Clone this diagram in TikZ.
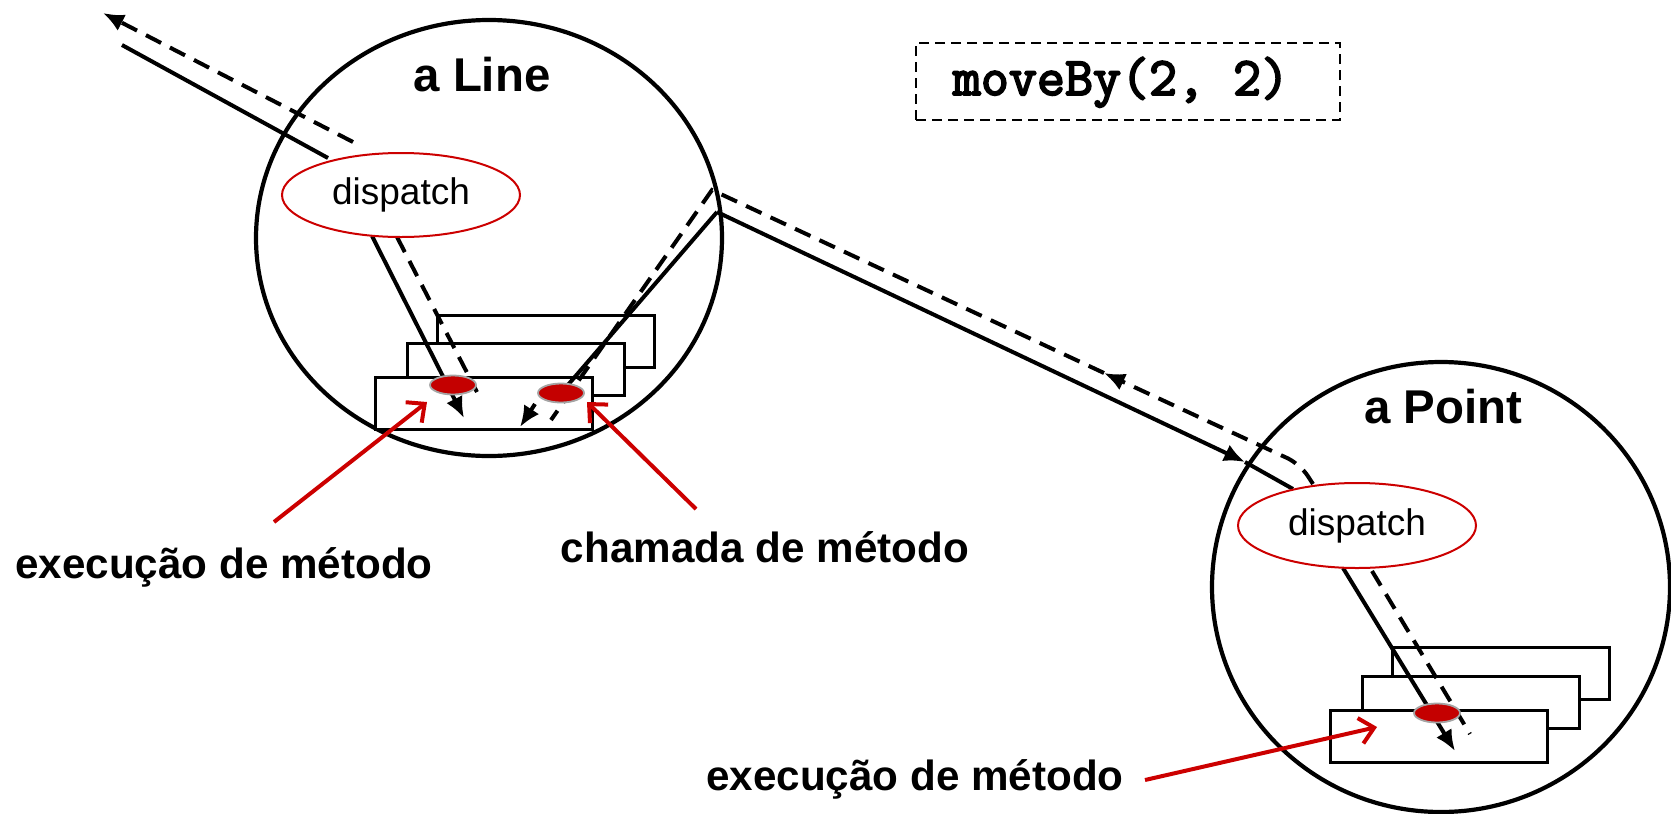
\documentclass[tikz,border=0pt]{standalone}
\usepackage{fontspec}
\setmainfont{Liberation Sans}
\newfontfamily\codefont{Latin Modern Mono}[FakeBold=3.5]
\usetikzlibrary{arrows.meta,shapes.geometric}
\definecolor{dispred}{RGB}{204,0,0}
\definecolor{dotred}{RGB}{196,0,0}
\definecolor{dotrim}{RGB}{165,165,165}
\begin{document}
\begin{tikzpicture}[x=0.5pt,y=-0.5pt,
  object/.style={draw, ellipse, line width=2.1pt, inner sep=0pt},
  dispatcher/.style={draw=dispred, fill=white, ellipse, line width=1pt, inner sep=0pt,
    minimum width=119pt, minimum height=42pt, font=\fontsize{18.5}{22}\selectfont},
  frame/.style={draw, fill=white, line width=1.5pt, inner sep=0pt,
    minimum width=108.5pt, minimum height=26pt},
  site/.style={ellipse, fill=dotred, draw=dotrim, line width=0.9pt, inner sep=0pt,
    minimum width=23pt, minimum height=9.5pt},
  call/.style={line width=2pt},
  back/.style={line width=2pt, dash pattern=on 8.5pt off 5pt},
  tip/.style={-{Latex[length=10.5pt,width=9pt]}},
  pointer/.style={draw=dispred, line width=2pt, -{Straight Barb[length=7pt,width=13pt,line width=2pt]}},
  title/.style={anchor=base, inner sep=0pt, font=\fontsize{23.7}{28}\selectfont\bfseries},
  caption/.style={anchor=base, inner sep=0pt, font=\fontsize{21.1}{25}\selectfont\bfseries}]
\useasboundingbox (0,0) rectangle (1671,814);

% the two objects
\node[object, minimum width=233pt, minimum height=218pt] (line) at (489,238) {};
\node[object, minimum width=229pt, minimum height=225pt] (point) at (1441,587) {};
\node[title] (linetitle) at (482,91) {a Line};
\node[title] (pointtitle) at (1443,423) {a Point};

% message box
\node[draw, line width=1.1pt, dash pattern=on 5pt off 3pt, minimum width=212pt, minimum height=38.5pt,
  inner sep=0pt] (msgbox) at (1128,81.5) {};
\node[anchor=base, inner sep=0pt, font=\fontsize{27.2}{30}\selectfont\codefont]
  (msg) at (1121,95) {moveBy(2, 2)};

% stacked activation frames of a Line
\node[frame] (lf3) at (545.5,341.5) {};
\node[frame] (lf2) at (515.5,369.5) {};
\node[frame] (lf1) at (483.5,403) {};
% stacked activation frames of a Point
\node[frame] (pf3) at (1501,673.5) {};
\node[frame] (pf2) at (1471,702) {};
\node[frame] (pf1) at (1439,736) {};

% path points
\coordinate (inA) at (122,45);
\coordinate (inB) at (328,158);
\coordinate (outA) at (353,142);
\coordinate (outB) at (103,13);
\coordinate (lsolA) at (372,236);
\coordinate (lsolB) at (464,418);
\coordinate (ldashA) at (397,237);
\coordinate (ldashB) at (477,392);
\coordinate (callsite) at (561,393);
\coordinate (peak) at (717,212);
\coordinate (midtip) at (1245,462);
\coordinate (pin) at (1293,489);
\coordinate (pback) at (1313,484);
\coordinate (bend) at (1300,464);
\coordinate (backtip) at (1104,373);
\coordinate (peakback) at (712,190);
\coordinate (retend) at (551,420);
\coordinate (rettail) at (535,404);
\coordinate (rettip) at (520,427);
\coordinate (psolA) at (1343,568);
\coordinate (psolB) at (1455,751);
\coordinate (pdashA) at (1372,571);
\coordinate (pdashB) at (1470,734);

% calls (solid) and returns (dashed)
\draw[call] (inA) -- (inB);
\draw[back, tip] (outA) -- (outB);
\draw[call, tip] (lsolA) -- (lsolB);
\draw[back] (ldashA) -- (ldashB);
\draw[call] (callsite) -- (peak);
\draw[call, tip] (peak) -- (midtip);
\draw[call] (midtip) -- (pin);
\draw[back, tip, rounded corners=7pt] (pback) -- (bend) -- (backtip);
\draw[back] (backtip) -- (peakback) -- (retend);
\draw[call, tip] (rettail) -- (rettip);
\draw[call, tip] (psolA) -- (psolB);
\draw[back] (pdashA) -- (pdashB);

% dispatchers
\node[dispatcher] (ldisp) at (401,195) {dispatch};
\node[dispatcher, minimum height=42.5pt] (pdisp) at (1357,525.5) {dispatch};

% join points
\node[site] (lexec) at (453,385) {};
\node[site] (lcall) at (561,393) {};
\node[site] (pexec) at (1437,713) {};

% labels and pointers
\node[caption] (lexeclabel) at (224,578) {execução de método};
\node[caption] (lcalllabel) at (765,562) {chamada de método};
\node[caption] (pexeclabel) at (915,790) {execução de método};
\coordinate (lexectail) at (274,522);
\coordinate (lcalltail) at (696,509);
\coordinate (pexectail) at (1145,780);
\draw[pointer] (lexectail) -- (427,402);
\draw[pointer] (lcalltail) -- (587,402);
\draw[pointer] (pexectail) -- (1377,727);
\end{tikzpicture}
\end{document}
